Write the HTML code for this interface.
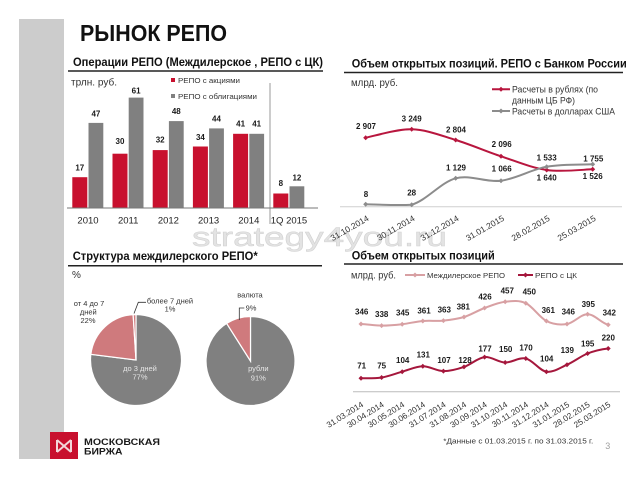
<!DOCTYPE html>
<html>
<head>
<meta charset="utf-8">
<style>
html,body{margin:0;padding:0;background:#fff;}
svg{display:block;}
text{font-family:"Liberation Sans","DejaVu Sans",sans-serif;}
</style>
</head>
<body>
<svg width="638" height="479" viewBox="0 0 638 479" xmlns="http://www.w3.org/2000/svg">
<rect width="638" height="479" fill="#fff"/>
<!-- sidebar -->
<rect x="19" y="19" width="45" height="440" fill="#cccccc"/>

<!-- watermark -->
<text x="192" y="246" font-size="27" fill="#e3e3e3" stroke="#d2d2d2" stroke-width="0.5" textLength="255" lengthAdjust="spacingAndGlyphs">strategy4you.ru</text>

<!-- main title -->
<text x="80" y="41" font-size="23.5" font-weight="bold" fill="#111" textLength="147" lengthAdjust="spacingAndGlyphs">РЫНОК РЕПО</text>

<!-- ============ Chart 1: bars ============ -->
<text x="73" y="66" font-size="11.5" font-weight="bold" fill="#111" textLength="250" lengthAdjust="spacingAndGlyphs">Операции РЕПО (Междилерское , РЕПО с ЦК)</text>
<line x1="68" y1="71" x2="323" y2="71" stroke="#222" stroke-width="1.5"/>
<text x="71" y="85.5" font-size="10" fill="#333" textLength="46" lengthAdjust="spacingAndGlyphs">трлн. руб.</text>
<rect x="171" y="78" width="4" height="4" fill="#c8102e"/>
<text x="178" y="83" font-size="7.5" fill="#333" textLength="62" lengthAdjust="spacingAndGlyphs">РЕПО с акциями</text>
<rect x="171" y="94" width="4" height="4" fill="#808080"/>
<text x="178" y="99" font-size="7.5" fill="#333" textLength="79" lengthAdjust="spacingAndGlyphs">РЕПО с облигациями</text>

<line x1="270" y1="83" x2="270" y2="224" stroke="#9a9a9a" stroke-width="1"/>

<g fill="#c8102e">
<rect x="72.3" y="177.2" width="15" height="30.8"/>
<rect x="112.5" y="153.7" width="15" height="54.3"/>
<rect x="152.7" y="150.1" width="15" height="57.9"/>
<rect x="192.9" y="146.5" width="15" height="61.5"/>
<rect x="233.1" y="133.8" width="15" height="74.2"/>
<rect x="273.3" y="193.5" width="15" height="14.5"/>
</g>
<g fill="#808080">
<rect x="88.5" y="122.9" width="14.8" height="85.1"/>
<rect x="128.7" y="97.6" width="14.8" height="110.4"/>
<rect x="168.9" y="121.1" width="14.8" height="86.9"/>
<rect x="209.1" y="128.4" width="14.8" height="79.6"/>
<rect x="249.3" y="133.8" width="14.8" height="74.2"/>
<rect x="289.5" y="186.3" width="14.8" height="21.7"/>
</g>
<line x1="67" y1="208" x2="318" y2="208" stroke="#777" stroke-width="1"/>

<g font-size="8" font-weight="bold" fill="#1a1a1a" text-anchor="middle">
<text x="79.8" y="170.5">17</text>
<text x="120" y="144">30</text>
<text x="160.2" y="142.7">32</text>
<text x="200.4" y="140">34</text>
<text x="240.6" y="126.7">41</text>
<text x="280.8" y="186">8</text>
<text x="95.9" y="116.7">47</text>
<text x="136.1" y="93.3">61</text>
<text x="176.3" y="114">48</text>
<text x="216.5" y="121.7">44</text>
<text x="256.7" y="126.7">41</text>
<text x="296.9" y="180.3">12</text>
</g>
<g font-size="9.5" fill="#222" text-anchor="middle">
<text x="88" y="223.3">2010</text>
<text x="128.2" y="223.3">2011</text>
<text x="168.4" y="223.3">2012</text>
<text x="208.6" y="223.3">2013</text>
<text x="248.8" y="223.3">2014</text>
<text x="289" y="223.3">1Q 2015</text>
</g>

<!-- ============ Chart 2: top-right lines ============ -->
<text x="351.7" y="67.3" font-size="11.5" font-weight="bold" fill="#111" textLength="275" lengthAdjust="spacingAndGlyphs">Объем открытых позиций. РЕПО с Банком России</text>
<line x1="344" y1="72.5" x2="623" y2="72.5" stroke="#222" stroke-width="1.5"/>
<text x="351" y="86" font-size="10" fill="#333" textLength="47" lengthAdjust="spacingAndGlyphs">млрд. руб.</text>

<line x1="492" y1="89.3" x2="510" y2="89.3" stroke="#b8163e" stroke-width="2"/>
<path d="M501,86.8 l2.5,2.5 l-2.5,2.5 l-2.5,-2.5 z" fill="#b8163e"/>
<text x="512" y="92.5" font-size="9" fill="#333" textLength="86" lengthAdjust="spacingAndGlyphs">Расчеты в рублях (по</text>
<text x="512" y="103.5" font-size="9" fill="#333" textLength="63" lengthAdjust="spacingAndGlyphs">данным ЦБ РФ)</text>
<line x1="492" y1="111" x2="510" y2="111" stroke="#8c8c8c" stroke-width="2"/>
<path d="M501,108.5 l2.5,2.5 l-2.5,2.5 l-2.5,-2.5 z" fill="#8c8c8c"/>
<text x="512" y="114.5" font-size="9" fill="#333" textLength="103" lengthAdjust="spacingAndGlyphs">Расчеты в долларах США</text>

<line x1="340" y1="206.7" x2="622" y2="206.7" stroke="#cfcfcf" stroke-width="1"/>

<path d="M365.7,137.7 C373.4,136.3 396.7,128.9 411.7,129.3 C426.7,129.7 440.8,135.5 455.7,140 C470.6,144.5 485.8,151.3 501,156.3 C516.2,161.3 531.4,167.8 546.7,170 C562,172.2 585,169.4 592.7,169.3" fill="none" stroke="#b8163e" stroke-width="2"/>
<path d="M365.7,204.3 C373.4,204.4 396.7,205.5 411.7,204.7 C426.7,200.4 440.8,182.3 455.7,178.3 C470.6,174.3 485.8,182.6 501,180.7 C516.2,178.8 531.4,169.4 546.7,166.7 C562,164 585,164.7 592.7,164.3" fill="none" stroke="#8c8c8c" stroke-width="2"/>
<g fill="#b8163e">
<path d="M365.7,135.2 l2.5,2.5 l-2.5,2.5 l-2.5,-2.5 z"/>
<path d="M411.7,126.8 l2.5,2.5 l-2.5,2.5 l-2.5,-2.5 z"/>
<path d="M455.7,137.5 l2.5,2.5 l-2.5,2.5 l-2.5,-2.5 z"/>
<path d="M501,153.8 l2.5,2.5 l-2.5,2.5 l-2.5,-2.5 z"/>
<path d="M546.7,167.5 l2.5,2.5 l-2.5,2.5 l-2.5,-2.5 z"/>
<path d="M592.7,166.8 l2.5,2.5 l-2.5,2.5 l-2.5,-2.5 z"/>
</g>
<g fill="#8c8c8c">
<path d="M365.7,201.8 l2.5,2.5 l-2.5,2.5 l-2.5,-2.5 z"/>
<path d="M411.7,202.2 l2.5,2.5 l-2.5,2.5 l-2.5,-2.5 z"/>
<path d="M455.7,175.8 l2.5,2.5 l-2.5,2.5 l-2.5,-2.5 z"/>
<path d="M501,178.2 l2.5,2.5 l-2.5,2.5 l-2.5,-2.5 z"/>
<path d="M546.7,164.2 l2.5,2.5 l-2.5,2.5 l-2.5,-2.5 z"/>
<path d="M592.7,161.8 l2.5,2.5 l-2.5,2.5 l-2.5,-2.5 z"/>
</g>
<g font-size="8" font-weight="bold" fill="#1a1a1a" text-anchor="middle">
<text x="366" y="129">2 907</text>
<text x="411.7" y="121.3">3 249</text>
<text x="456" y="132.3">2 804</text>
<text x="501.7" y="147">2 096</text>
<text x="546.7" y="160.3">1 533</text>
<text x="593.3" y="161.3">1 755</text>
<text x="546.7" y="180.7">1 640</text>
<text x="592.7" y="179">1 526</text>
<text x="366" y="197">8</text>
<text x="411.7" y="195.7">28</text>
<text x="456" y="170.7">1 129</text>
<text x="501.7" y="171.3">1 066</text>
</g>
<g font-size="8.5" fill="#333" text-anchor="end">
<text transform="translate(369.5,220) rotate(-30)">31.10.2014</text>
<text transform="translate(415.5,220) rotate(-30)">30.11.2014</text>
<text transform="translate(459.5,220) rotate(-30)">31.12.2014</text>
<text transform="translate(504.8,220) rotate(-30)">31.01.2015</text>
<text transform="translate(550.5,220) rotate(-30)">28.02.2015</text>
<text transform="translate(596.5,220) rotate(-30)">25.03.2015</text>
</g>

<!-- ============ Chart 3: pies ============ -->
<text x="72.7" y="260" font-size="11.5" font-weight="bold" fill="#111" textLength="185" lengthAdjust="spacingAndGlyphs">Структура междилерского РЕПО*</text>
<line x1="68" y1="265.7" x2="322" y2="265.7" stroke="#222" stroke-width="1.5"/>
<text x="72" y="278" font-size="10" fill="#333">%</text>

<g stroke="#fff" stroke-width="1.2">
<path d="M136,360 L136,314.5 A45.5,45.5 0 1 1 90.86,354.3 Z" fill="#808080"/>
<path d="M136,360 L90.86,354.3 A45.5,45.5 0 0 1 133.14,314.59 Z" fill="#cf7a7d"/>
<path d="M136,360 L133.14,314.59 A45.5,45.5 0 0 1 136,314.5 Z" fill="#cf7a7d"/>
<path d="M250.5,361 L250.5,316.5 A44.5,44.5 0 1 1 226.66,323.43 Z" fill="#808080"/>
<path d="M250.5,361 L226.66,323.43 A44.5,44.5 0 0 1 250.5,316.5 Z" fill="#cf7a7d"/>
</g>
<polyline points="134,313.5 138.3,302.3 146,302.3" fill="none" stroke="#333" stroke-width="0.8"/>
<polyline points="239.3,320 239.3,308 244.3,308" fill="none" stroke="#333" stroke-width="0.8"/>
<g font-size="7.5" fill="#333" text-anchor="middle">
<text x="89" y="306">от 4 до 7</text>
<text x="88.3" y="314.5">дней</text>
<text x="88" y="323">22%</text>
<text x="170" y="303.5">более 7 дней</text>
<text x="170" y="311.5">1%</text>
<text x="250" y="297.5">валюта</text>
<text x="251" y="310.5">9%</text>
</g>
<g font-size="7.5" fill="#e6e6e6" text-anchor="middle">
<text x="140" y="371">до 3 дней</text>
<text x="140" y="379.5">77%</text>
<text x="258.3" y="371">рубли</text>
<text x="258.3" y="380.5">91%</text>
</g>

<!-- ============ Chart 4: bottom-right lines ============ -->
<text x="351.7" y="259.3" font-size="11.5" font-weight="bold" fill="#111" textLength="143" lengthAdjust="spacingAndGlyphs">Объем открытых позиций</text>
<line x1="344" y1="264" x2="623" y2="264" stroke="#222" stroke-width="1.5"/>
<text x="351" y="278.5" font-size="10" fill="#333" textLength="45" lengthAdjust="spacingAndGlyphs">млрд. руб.</text>
<line x1="405" y1="275" x2="425" y2="275" stroke="#d8a0a3" stroke-width="2"/>
<path d="M415,272.5 l2.5,2.5 l-2.5,2.5 l-2.5,-2.5 z" fill="#d8a0a3"/>
<text x="427" y="277.8" font-size="7.5" fill="#333" textLength="78" lengthAdjust="spacingAndGlyphs">Междилерское РЕПО</text>
<line x1="518" y1="275" x2="533" y2="275" stroke="#a5173c" stroke-width="2"/>
<path d="M525.5,272.5 l2.5,2.5 l-2.5,2.5 l-2.5,-2.5 z" fill="#a5173c"/>
<text x="535" y="277.8" font-size="7.5" fill="#333" textLength="42" lengthAdjust="spacingAndGlyphs">РЕПО с ЦК</text>

<line x1="353" y1="391.7" x2="620" y2="391.7" stroke="#bbb" stroke-width="1"/>

<path d="M361,324 C367.9,324.3 374.7,325.6 381.6,325.6 C388.5,325.6 395.3,325 402.2,324.2 C409.1,323.4 415.9,321.6 422.8,321 C429.7,320.4 436.5,321.3 443.4,320.6 C450.3,319.9 457.1,319.1 464,317 C470.9,314.9 477.7,310.5 484.6,308 C491.5,305.5 498.3,302.6 505.2,301.8 C512.1,301 518.9,300 525.8,303.2 C532.7,306.4 539.5,317.5 546.4,321 C553.3,324.5 560.1,325.1 567,324 C573.9,322.9 580.7,314.1 587.6,314.2 C594.5,314.3 601.3,323 608.2,324.8" fill="none" stroke="#d8a0a3" stroke-width="2"/>
<path d="M361,378.3 C367.9,378.2 374.7,378.6 381.6,377.5 C388.5,376.4 395.3,373.6 402.2,371.7 C409.1,369.8 415.9,366.4 422.8,366.3 C429.7,366.2 436.5,371 443.4,371.1 C450.3,371.2 457.1,369.2 464,366.9 C470.9,364.6 477.7,357.8 484.6,357.1 C491.5,356.4 498.3,362.3 505.2,362.5 C512.1,362.7 518.9,357 525.8,358.5 C532.7,360 539.5,370.7 546.4,371.7 C553.3,372.7 560.1,367.7 567,364.7 C573.9,361.7 580.7,356.2 587.6,353.5 C594.5,350.8 601.3,349.3 608.2,348.5" fill="none" stroke="#a5173c" stroke-width="2"/>
<g fill="#d8a0a3">
<path d="M361,321.5 l2.5,2.5 l-2.5,2.5 l-2.5,-2.5 z"/>
<path d="M381.6,323.1 l2.5,2.5 l-2.5,2.5 l-2.5,-2.5 z"/>
<path d="M402.2,321.7 l2.5,2.5 l-2.5,2.5 l-2.5,-2.5 z"/>
<path d="M422.8,318.5 l2.5,2.5 l-2.5,2.5 l-2.5,-2.5 z"/>
<path d="M443.4,318.1 l2.5,2.5 l-2.5,2.5 l-2.5,-2.5 z"/>
<path d="M464,314.5 l2.5,2.5 l-2.5,2.5 l-2.5,-2.5 z"/>
<path d="M484.6,305.5 l2.5,2.5 l-2.5,2.5 l-2.5,-2.5 z"/>
<path d="M505.2,299.3 l2.5,2.5 l-2.5,2.5 l-2.5,-2.5 z"/>
<path d="M525.8,300.7 l2.5,2.5 l-2.5,2.5 l-2.5,-2.5 z"/>
<path d="M546.4,318.5 l2.5,2.5 l-2.5,2.5 l-2.5,-2.5 z"/>
<path d="M567,321.5 l2.5,2.5 l-2.5,2.5 l-2.5,-2.5 z"/>
<path d="M587.6,311.7 l2.5,2.5 l-2.5,2.5 l-2.5,-2.5 z"/>
<path d="M608.2,322.3 l2.5,2.5 l-2.5,2.5 l-2.5,-2.5 z"/>
</g>
<g fill="#a5173c">
<path d="M361,375.8 l2.5,2.5 l-2.5,2.5 l-2.5,-2.5 z"/>
<path d="M381.6,375 l2.5,2.5 l-2.5,2.5 l-2.5,-2.5 z"/>
<path d="M402.2,369.2 l2.5,2.5 l-2.5,2.5 l-2.5,-2.5 z"/>
<path d="M422.8,363.8 l2.5,2.5 l-2.5,2.5 l-2.5,-2.5 z"/>
<path d="M443.4,368.6 l2.5,2.5 l-2.5,2.5 l-2.5,-2.5 z"/>
<path d="M464,364.4 l2.5,2.5 l-2.5,2.5 l-2.5,-2.5 z"/>
<path d="M484.6,354.6 l2.5,2.5 l-2.5,2.5 l-2.5,-2.5 z"/>
<path d="M505.2,360 l2.5,2.5 l-2.5,2.5 l-2.5,-2.5 z"/>
<path d="M525.8,356 l2.5,2.5 l-2.5,2.5 l-2.5,-2.5 z"/>
<path d="M546.4,369.2 l2.5,2.5 l-2.5,2.5 l-2.5,-2.5 z"/>
<path d="M567,362.2 l2.5,2.5 l-2.5,2.5 l-2.5,-2.5 z"/>
<path d="M587.6,351 l2.5,2.5 l-2.5,2.5 l-2.5,-2.5 z"/>
<path d="M608.2,346 l2.5,2.5 l-2.5,2.5 l-2.5,-2.5 z"/>
</g>
<g font-size="8" font-weight="bold" fill="#1a1a1a" text-anchor="middle">
<text x="361.7" y="314.7">346</text>
<text x="381.7" y="317">338</text>
<text x="402.7" y="315.3">345</text>
<text x="424" y="313.7">361</text>
<text x="444.3" y="312.3">363</text>
<text x="463.3" y="309.7">381</text>
<text x="485" y="299.7">426</text>
<text x="507.3" y="293.7">457</text>
<text x="529.3" y="294.7">450</text>
<text x="548.3" y="313">361</text>
<text x="568.3" y="314.7">346</text>
<text x="588.3" y="307">395</text>
<text x="609.3" y="315.7">342</text>
<text x="361.7" y="368.7">71</text>
<text x="381.7" y="368.7">75</text>
<text x="402.7" y="363">104</text>
<text x="423.3" y="357.3">131</text>
<text x="444" y="363">107</text>
<text x="465" y="363">128</text>
<text x="485" y="351.3">177</text>
<text x="505.7" y="352">150</text>
<text x="526" y="350.7">170</text>
<text x="546.7" y="361.3">104</text>
<text x="567.3" y="353">139</text>
<text x="587.7" y="346.3">195</text>
<text x="608.3" y="340.7">220</text>
</g>
<g font-size="8.3" fill="#333" text-anchor="end">
<text transform="translate(364,406) rotate(-32)">31.03.2014</text>
<text transform="translate(384.6,406) rotate(-32)">30.04.2014</text>
<text transform="translate(405.2,406) rotate(-32)">30.05.2014</text>
<text transform="translate(425.8,406) rotate(-32)">30.06.2014</text>
<text transform="translate(446.4,406) rotate(-32)">31.07.2014</text>
<text transform="translate(467,406) rotate(-32)">31.08.2014</text>
<text transform="translate(487.6,406) rotate(-32)">30.09.2014</text>
<text transform="translate(508.2,406) rotate(-32)">31.10.2014</text>
<text transform="translate(528.8,406) rotate(-32)">30.11.2014</text>
<text transform="translate(549.4,406) rotate(-32)">31.12.2014</text>
<text transform="translate(570,406) rotate(-32)">31.01.2015</text>
<text transform="translate(590.6,406) rotate(-32)">28.02.2015</text>
<text transform="translate(611.2,406) rotate(-32)">25.03.2015</text>
</g>

<!-- ============ Footer ============ -->
<rect x="50" y="432" width="28" height="27" fill="#c8102e"/>
<path d="M57,440 L57,452 M71,440 L71,452 M57,440 L71,452 M71,440 L57,452" stroke="#f3d6da" stroke-width="2" fill="none"/>
<text x="84" y="445" font-size="9.3" font-weight="bold" fill="#1a1a1a" textLength="76" lengthAdjust="spacingAndGlyphs">МОСКОВСКАЯ</text>
<text x="84" y="454.3" font-size="9.3" font-weight="bold" fill="#1a1a1a" textLength="38.5" lengthAdjust="spacingAndGlyphs">БИРЖА</text>
<text x="443.3" y="443.3" font-size="7.5" fill="#333" textLength="150" lengthAdjust="spacingAndGlyphs">*Данные с 01.03.2015 г. по 31.03.2015 г.</text>
<text x="607.7" y="449" font-size="9" fill="#a0a0a0" text-anchor="middle">3</text>
</svg>
</body>
</html>
